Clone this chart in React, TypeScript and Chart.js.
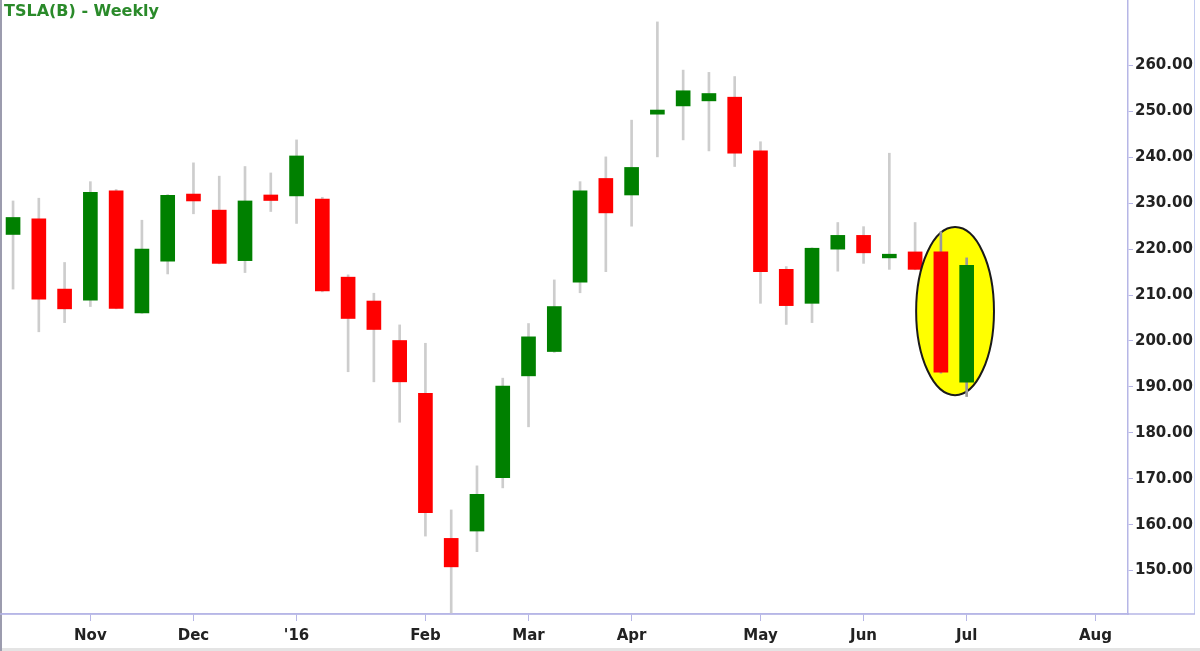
import React, { useEffect, useRef } from 'react';
import { Chart, registerables } from 'chart.js';

Chart.register(...registerables);

// Weekly candles (week start dates)
const weekStarts = [
  '2015-10-12', '2015-10-19', '2015-10-26', '2015-11-02', '2015-11-09', '2015-11-16', '2015-11-23', '2015-11-30',
  '2015-12-07', '2015-12-14', '2015-12-21', '2015-12-28', '2016-01-04', '2016-01-11', '2016-01-18', '2016-01-25',
  '2016-02-01', '2016-02-08', '2016-02-15', '2016-02-22', '2016-02-29', '2016-03-07', '2016-03-14', '2016-03-21',
  '2016-03-28', '2016-04-04', '2016-04-11', '2016-04-18', '2016-04-25', '2016-05-02', '2016-05-09', '2016-05-16',
  '2016-05-23', '2016-05-30', '2016-06-06', '2016-06-13', '2016-06-20', '2016-06-27',
];
const opens = [
  223.2, 226.6, 211.3, 208.9, 232.7, 206.1, 217.4, 232.0, 228.5, 217.5, 231.8, 231.6, 230.9, 213.9, 208.7, 200.1,
  188.6, 157.0, 158.6, 170.2, 192.4, 197.7, 212.8, 235.4, 231.8, 249.4, 251.2, 252.3, 253.1, 241.4, 215.6, 208.2,
  220.0, 223.0, 218.1, 219.4, 219.4, 191.0,
];
const highs = [
  230.5, 231.1, 217.1, 234.7, 233.0, 226.3, 231.9, 238.8, 235.9, 238.0, 236.6, 243.8, 231.3, 214.4, 210.4, 203.5,
  199.5, 163.2, 172.8, 191.9, 203.8, 213.3, 234.7, 240.1, 248.1, 269.5, 259.0, 258.5, 257.6, 243.4, 216.2, 220.3,
  225.8, 224.9, 240.9, 225.8, 223.8, 218.1,
];
const lows = [
  211.3, 202.0, 204.0, 207.5, 207.0, 206.0, 214.6, 227.7, 216.8, 214.9, 228.2, 225.6, 210.7, 193.3, 191.1, 182.3,
  157.5, 140.6, 154.1, 168.0, 181.3, 197.5, 210.5, 215.1, 225.0, 240.1, 243.8, 241.4, 238.0, 208.2, 203.6, 204.0,
  215.2, 216.9, 215.6, 215.5, 193.0, 187.9,
];
const closes = [
  226.9, 209.1, 207.0, 232.4, 207.1, 220.0, 231.7, 230.5, 216.9, 230.5, 230.6, 240.3, 210.9, 204.9, 202.5, 191.1,
  162.6, 150.8, 166.6, 190.2, 200.9, 207.5, 232.7, 227.9, 237.8, 250.3, 254.5, 253.9, 240.9, 215.1, 207.7, 220.2,
  223.0, 219.2, 218.9, 215.6, 193.2, 216.5,
];

// Axis ticks
const monthTickWeeks = [3, 7, 11, 16, 20, 24, 29, 33, 37, 42];
const monthTickLabels = ['Nov', 'Dec', "'16", 'Feb', 'Mar', 'Apr', 'May', 'Jun', 'Jul', 'Aug'];
const priceTicks = [150, 160, 170, 180, 190, 200, 210, 220, 230, 240, 250, 260];

// Highlight ellipse around the last two candles (in data units)
const highlightCenterWeek = 36.55;
const highlightCenterPrice = 206.5;
const highlightHalfWeeks = 1.51;
const highlightHalfPrice = 18.3;
const highlightFromIndex = 36;

const UP = '#008000';
const DOWN = '#ff0000';
const AXIS = '#b6b6e6';
const FONT = '"DejaVu Sans", "Liberation Sans", Arial, sans-serif';

export default function App() {
  const canvasRef = useRef<HTMLCanvasElement | null>(null);

  useEffect(() => {
    document.body.style.margin = '0';
    const canvas = canvasRef.current;
    if (!canvas) return;

    const idx = weekStarts.map((_, i) => i);
    const groupA = idx.filter((i) => i < highlightFromIndex);
    const groupB = idx.filter((i) => i >= highlightFromIndex);
    const wick = (ids: number[]) => ids.map((i) => ({ x: i, y: [lows[i], highs[i]] }));
    const body = (ids: number[]) => ids.map((i) => ({ x: i, y: [opens[i], closes[i]] }));
    const bodyColors = (ids: number[]) => ids.map((i) => (closes[i] >= opens[i] ? UP : DOWN));

    const ellipsePlugin = {
      id: 'highlightEllipse',
      afterDatasetDraw(chart: any, args: any) {
        if (args.index !== 1) return;
        const { ctx, scales } = chart;
        const xs = scales.x;
        const ys = scales.y;
        const cx = xs.getPixelForValue(highlightCenterWeek);
        const cy = ys.getPixelForValue(highlightCenterPrice);
        const rx = Math.abs(xs.getPixelForValue(highlightCenterWeek + highlightHalfWeeks) - cx);
        const ry = Math.abs(ys.getPixelForValue(highlightCenterPrice + highlightHalfPrice) - cy);
        ctx.save();
        ctx.beginPath();
        ctx.ellipse(cx, cy, rx, ry, 0, 0, Math.PI * 2);
        ctx.fillStyle = '#ffff00';
        ctx.fill();
        ctx.lineWidth = 2;
        ctx.strokeStyle = '#1a1a1a';
        ctx.stroke();
        ctx.restore();
      },
    };

    const framePlugin = {
      id: 'frame',
      afterDraw(chart: any) {
        const { ctx, chartArea } = chart;
        const w = chart.width;
        const h = chart.height;
        ctx.save();
        ctx.fillStyle = '#e4e4e4';
        ctx.fillRect(0, h - 3, w, 3);
        ctx.strokeStyle = '#9c9cae';
        ctx.lineWidth = 2;
        ctx.beginPath();
        ctx.moveTo(1, 0);
        ctx.lineTo(1, h);
        ctx.stroke();
        ctx.strokeStyle = '#c4ccf0';
        ctx.lineWidth = 1;
        ctx.beginPath();
        ctx.moveTo(w - 5.5, 0);
        ctx.lineTo(w - 5.5, chartArea.bottom);
        ctx.stroke();
        ctx.strokeStyle = AXIS;
        ctx.lineWidth = 1.5;
        ctx.beginPath();
        ctx.moveTo(0, chartArea.bottom);
        ctx.lineTo(w - 5, chartArea.bottom);
        ctx.stroke();
        ctx.restore();
      },
    };

    const chart = new Chart(canvas, {
      type: 'bar',
      data: {
        datasets: [
          {
            label: 'wicks',
            data: wick(groupA) as any,
            backgroundColor: '#cdcdcd',
            barThickness: 2,
            grouped: false,
            order: 4,
          },
          {
            label: 'bodies',
            data: body(groupA) as any,
            backgroundColor: bodyColors(groupA),
            barThickness: 14,
            grouped: false,
            order: 3,
          },
          {
            label: 'wicks2',
            data: wick(groupB) as any,
            backgroundColor: '#9a9a9a',
            barThickness: 2,
            grouped: false,
            order: 2,
          },
          {
            label: 'bodies2',
            data: body(groupB) as any,
            backgroundColor: bodyColors(groupB),
            barThickness: 14,
            grouped: false,
            order: 1,
          },
        ] as any,
      },
      options: {
        responsive: false,
        animation: false,
        layout: { padding: { left: 3, right: 6, top: 0, bottom: 3 } },
        plugins: {
          legend: { display: false },
          tooltip: { enabled: false },
          title: { display: false },
        },
        scales: {
          x: {
            type: 'linear',
            position: 'bottom',
            min: -0.39,
            max: 43.26,
            bounds: 'data',
            offset: false,
            grid: {
              display: true,
              drawOnChartArea: false,
              drawTicks: true,
              tickLength: 7,
              color: AXIS,
              offset: false,
            },
            border: { display: true, color: AXIS, width: 1.5 },
            ticks: {
              autoSkip: false,
              maxRotation: 0,
              padding: 6,
              color: '#222222',
              font: { family: FONT, size: 15, weight: 'bold' },
              callback: (_v: any, i: number) => monthTickLabels[i],
            },
            afterBuildTicks: (scale: any) => {
              scale.ticks = monthTickWeeks.map((v) => ({ value: v }));
            },
            afterFit: (scale: any) => {
              scale.height = 34;
              scale.paddingLeft = 0;
              scale.paddingRight = 0;
            },
          },
          y: {
            type: 'linear',
            position: 'right',
            min: 140.53,
            max: 274.27,
            bounds: 'data',
            grid: {
              display: true,
              drawOnChartArea: false,
              drawTicks: true,
              tickLength: 5,
              color: AXIS,
            },
            border: { display: true, color: AXIS, width: 1.5 },
            ticks: {
              padding: 2,
              color: '#222222',
              font: { family: FONT, size: 15, weight: 'bold' },
              callback: (v: any) => Number(v).toFixed(2),
            },
            afterBuildTicks: (scale: any) => {
              scale.ticks = priceTicks.map((v) => ({ value: v }));
            },
            afterFit: (scale: any) => {
              scale.width = 66;
              scale.paddingTop = 0;
              scale.paddingBottom = 0;
            },
          },
        },
      } as any,
      plugins: [ellipsePlugin, framePlugin],
    });

    return () => chart.destroy();
  }, []);

  return (
    <div style={{ position: 'relative', width: 1200, height: 651, background: '#ffffff' }}>
      <canvas ref={canvasRef} width={1200} height={651} style={{ display: 'block' }} />
      <div
        style={{
          position: 'absolute',
          left: 4,
          top: 2,
          fontFamily: FONT,
          fontWeight: 'bold',
          fontSize: 16,
          lineHeight: '18px',
          color: '#2a8a2a',
          whiteSpace: 'nowrap',
        }}
      >
        TSLA(B) - Weekly
      </div>
    </div>
  );
}
